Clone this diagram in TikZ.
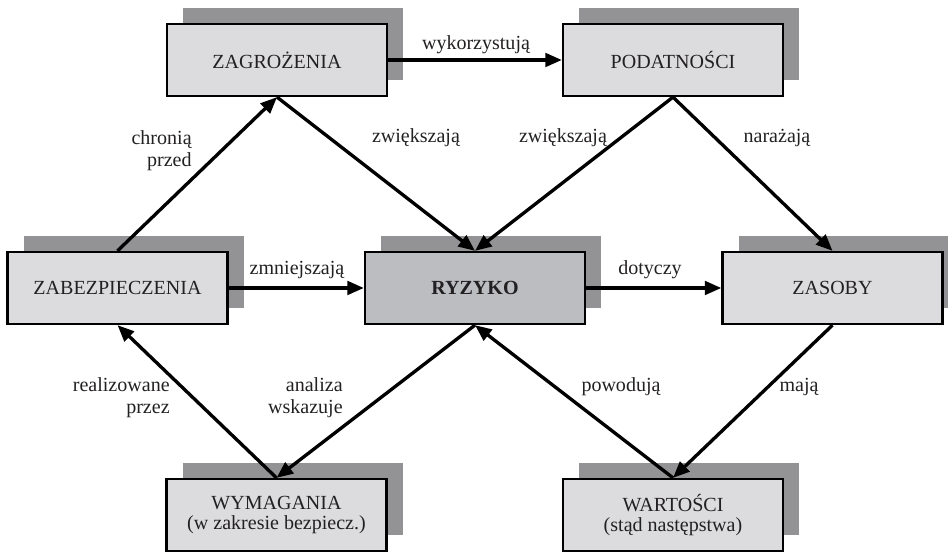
\documentclass[tikz,border=0pt]{standalone}
\usepackage{fontspec}
\setmainfont{Liberation Serif}
\usetikzlibrary{shadows}
\usetikzlibrary{arrows.meta}

\definecolor{boxgray}{RGB}{220,220,223}
\definecolor{riskgray}{RGB}{188,189,193}
\definecolor{shadowgray}{RGB}{147,147,150}
\definecolor{txtgray}{RGB}{35,32,34}

\tikzset{
  box/.style={rectangle,draw,line width=1.3pt,fill=boxgray,
    minimum width=4.4cm,minimum height=1.44cm,align=center,text=txtgray,
    font=\fontsize{11.4}{11.6}\selectfont,
    general shadow={fill=shadowgray,shadow xshift=.32cm,shadow yshift=.32cm}},
  link/.style={-{Triangle[length=3.3mm,width=2.7mm]},line width=1.9pt},
  lbl/.style={text=txtgray,align=right,inner sep=0pt,
    font=\fontsize{11.4}{12.6}\selectfont}
}

\begin{document}
\begin{tikzpicture}
\useasboundingbox (0,0) rectangle (18.96,11.06);

% pola
\node[box] (zagr) at (5.54,9.86) {ZAGROŻENIA};
\node[box] (podat) at (13.46,9.86) {PODATNOŚCI};
\node[box] (zabezp) at (2.35,5.30) {ZABEZPIECZENIA};
\node[box,fill=riskgray] (ryzyko) at (9.5,5.30) {\textbf{RYZYKO}};
\node[box] (zasoby) at (16.65,5.30) {ZASOBY};
\node[box] (wymag) at (5.53,0.76) {WYMAGANIA\\(w zakresie bezpiecz.)};
\node[box] (wart) at (13.46,0.76) {WARTOŚCI\\(stąd następstwa)};

% powiazania
\draw[link] (zagr.east) -- (podat.west);
\draw[link] (zagr.south) -- (ryzyko.north);
\draw[link] (podat.south) -- (ryzyko.north);
\draw[link] (podat.south) -- (zasoby.north);
\draw[link] (zabezp.north) -- (zagr.south);
\draw[link] (zabezp.east) -- (ryzyko.west);
\draw[link] (ryzyko.east) -- (zasoby.west);
\draw[link] (ryzyko.south) -- (wymag.north);
\draw[link] (wymag.north) -- (zabezp.south);
\draw[link] (wart.north) -- (ryzyko.south);
\draw[link] (zasoby.south) -- (wart.north);

% opisy
\node[lbl] (l-wyk) at (9.52,10.16) {wykorzystują};
\node[lbl] (l-zw1) at (8.32,8.30) {zwiększają};
\node[lbl] (l-zw2) at (11.26,8.30) {zwiększają};
\node[lbl] (l-nar) at (15.54,8.30) {narażają};
\node[lbl,anchor=east] (l-chr) at (3.84,8.04) {chronią\\przed};
\node[lbl] (l-zmn) at (5.94,5.66) {zmniejszają};
\node[lbl] (l-dot) at (13.0,5.66) {dotyczy};
\node[lbl,anchor=east] (l-real) at (3.40,3.10) {realizowane\\przez};
\node[lbl,anchor=east] (l-anal) at (6.86,3.10) {analiza\\wskazuje};
\node[lbl] (l-pow) at (12.42,3.32) {powodują};
\node[lbl] (l-maj) at (15.98,3.32) {mają};

\end{tikzpicture}
\end{document}
